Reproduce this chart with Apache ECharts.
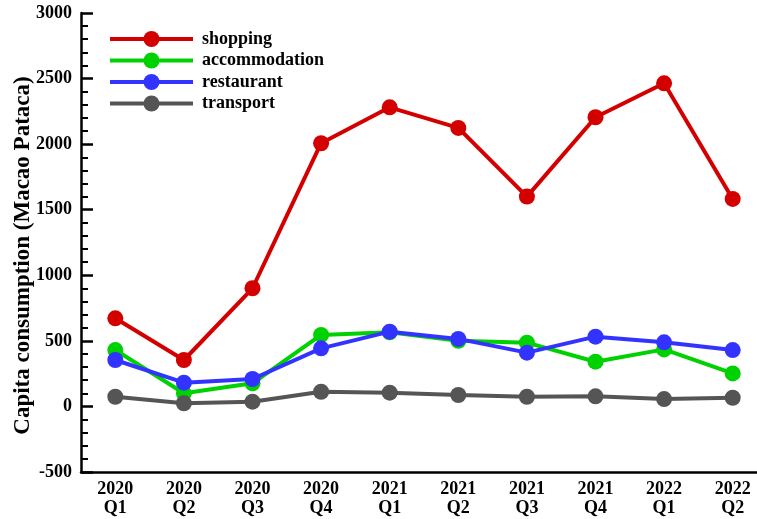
<!DOCTYPE html>
<html>
<head>
<meta charset="utf-8">
<script src="https://cdn.jsdelivr.net/npm/echarts@6/dist/echarts.min.js"></script>
<style>
  html, body { margin: 0; padding: 0; background: #fff; }
  #chart { width: 757px; height: 519px; }
</style>
</head>
<body>
<div id="chart"></div>
<script>
// Quarters on the x axis (year on the first line, quarter on the second)
const quarters = ['2020\nQ1', '2020\nQ2', '2020\nQ3', '2020\nQ4', '2021\nQ1', '2021\nQ2', '2021\nQ3', '2021\nQ4', '2022\nQ1', '2022\nQ2'];

// Per-capita consumption by category (Macao Pataca)
const shopping      = [672, 354, 901, 2007, 2281, 2124, 1600, 2205, 2464, 1582];
const accommodation = [430, 100, 176, 545, 565, 500, 486, 341, 435, 252];
const restaurant    = [354, 181, 209, 443, 570, 515, 410, 532, 489, 430];
const transport     = [74, 24, 36, 112, 105, 87, 74, 77, 56, 66];

const seriesNames  = ['shopping', 'accommodation', 'restaurant', 'transport'];
const seriesValues = [shopping, accommodation, restaurant, transport];
const seriesColors = ['#d40000', '#00d100', '#3333ff', '#555555'];

const FONT = '"Liberation Serif", "Times New Roman", serif';

const chart = echarts.init(document.getElementById('chart'), null, { renderer: 'canvas' });

chart.setOption({
  animation: false,
  backgroundColor: '#ffffff',
  grid: {
    left: 81, top: 13, bottom: 47, right: -10,
    containLabel: false,
    outerBoundsMode: 'none'
  },
  legend: {
    left: 103,
    top: 25,
    orient: 'vertical',
    itemWidth: 83,
    itemHeight: 20,
    itemGap: 3.5,
    data: seriesNames,
    lineStyle: { width: 4 },
    textStyle: {
      fontFamily: FONT,
      fontWeight: 'bold',
      fontSize: 18,
      color: '#000',
      padding: [0, 0, 0, 4]
    }
  },
  xAxis: {
    type: 'category',
    data: quarters,
    boundaryGap: true,
    axisLine: { onZero: false, lineStyle: { color: '#000', width: 2.5 } },
    axisTick: { alignWithLabel: true, inside: true, length: 12, lineStyle: { color: '#000', width: 2.5 } },
    axisLabel: {
      fontFamily: FONT,
      fontWeight: 'bold',
      fontSize: 18,
      color: '#000',
      lineHeight: 19,
      margin: 8
    },
    splitLine: { show: false }
  },
  yAxis: {
    type: 'value',
    min: -500,
    max: 3000,
    interval: 500,
    name: 'Capita consumption (Macao Pataca)',
    nameLocation: 'middle',
    nameGap: 46,
    nameMoveOverlap: false,
    nameTextStyle: {
      fontFamily: FONT,
      fontWeight: 'bold',
      fontSize: 23,
      color: '#000',
      padding: [0, 26, 0, 0]
    },
    axisLine: { show: true, onZero: false, lineStyle: { color: '#000', width: 2.5 } },
    axisTick: { show: true, inside: true, length: 12, lineStyle: { color: '#000', width: 2.5 } },
    minorTick: { show: true, splitNumber: 5, length: 7, lineStyle: { color: '#000', width: 2 } },
    axisLabel: {
      fontFamily: FONT,
      fontWeight: 'bold',
      fontSize: 18,
      color: '#000',
      margin: 9,
      formatter: v => String(v)
    },
    splitLine: { show: false },
    minorSplitLine: { show: false }
  },
  series: seriesNames.map((name, i) => ({
    name: name,
    type: 'line',
    data: seriesValues[i],
    symbol: 'circle',
    symbolSize: 16,
    color: seriesColors[i],
    lineStyle: { width: 4, color: seriesColors[i] },
    itemStyle: { color: seriesColors[i] },
    z: 2 + i
  }))
});
</script>
</body>
</html>
